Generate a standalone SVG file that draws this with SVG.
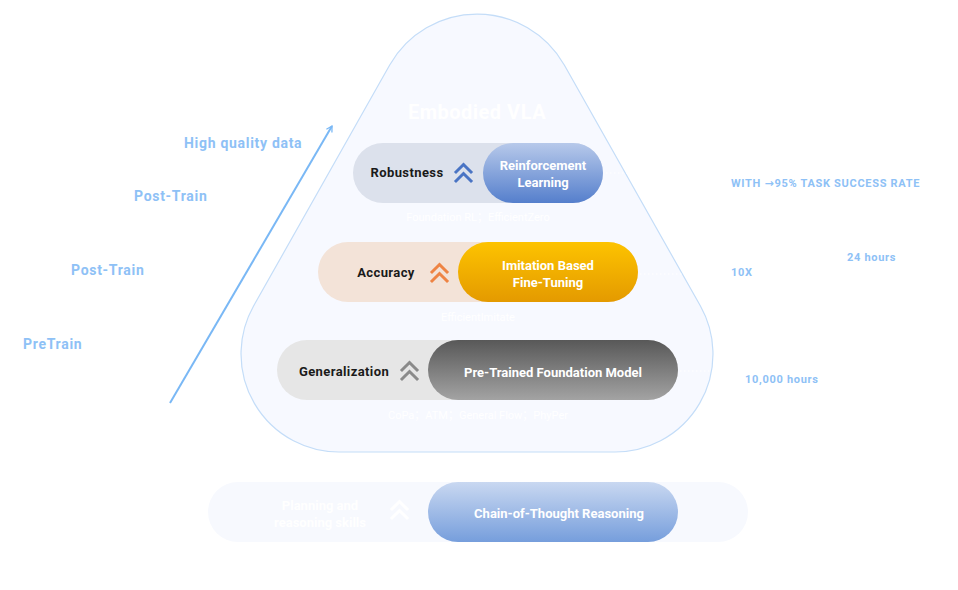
<svg xmlns="http://www.w3.org/2000/svg" width="958" height="590" viewBox="0 0 958 590">
<style>
  text { font-family: Roboto, "Liberation Sans", "Noto Sans CJK SC", sans-serif; font-weight: bold; }
  .side { fill: #8ec1f6; font-size: 14px; letter-spacing: 0.7px; }
  .stat { fill: #8ec1f6; font-size: 11px; letter-spacing: 0.7px; }
  .lbl { fill: #1a1a1a; font-size: 13px; text-anchor: middle; letter-spacing: 0.4px; }
  .wt { fill: #ffffff; font-size: 13px; text-anchor: middle; }
  .faint { fill: #ffffff; font-size: 11px; text-anchor: middle; font-weight: normal; }
  .chev { fill: none; stroke-width: 3; stroke-linecap: square; stroke-linejoin: miter; }
  .dots { stroke: #ffffff; stroke-width: 1.2; stroke-dasharray: 1.5 2.5; }
</style>
<defs>
  <linearGradient id="gBlue" x1="0" y1="0" x2="0" y2="1">
    <stop offset="0" stop-color="#b7c9ea"/>
    <stop offset="1" stop-color="#557fcc"/>
  </linearGradient>
  <linearGradient id="gOrange" x1="0" y1="0" x2="0" y2="1">
    <stop offset="0" stop-color="#fdc300"/>
    <stop offset="1" stop-color="#e49a00"/>
  </linearGradient>
  <linearGradient id="gGray" x1="0" y1="0" x2="0" y2="1">
    <stop offset="0" stop-color="#585858"/>
    <stop offset="1" stop-color="#a3a3a3"/>
  </linearGradient>
  <linearGradient id="gCot" x1="0" y1="0" x2="0" y2="1">
    <stop offset="0" stop-color="#c9d8f1"/>
    <stop offset="1" stop-color="#769edc"/>
  </linearGradient>
  <marker id="arr" viewBox="0 0 10 10" refX="8" refY="5" markerWidth="8" markerHeight="8" orient="auto" markerUnits="userSpaceOnUse">
    <path d="M1 1 L8 5 L1 9" fill="none" stroke="#7ab8f5" stroke-width="1.6"/>
  </marker>
</defs>

<g id="pyramid">
  <path d="M389.7 65 A100.3 100.3 0 0 1 564.3 65 L700.3 305.8 A98 98 0 0 1 615 452 L339 452 A98 98 0 0 1 253.7 305.8 Z" fill="#f7f9ff" stroke="#c4ddf8" stroke-width="1.2"/>
  <text x="477" y="119" class="wt" style="font-size:20px;letter-spacing:0.5px">Embodied VLA</text>
</g>

<g id="connectors">
  <line x1="170" y1="403" x2="332" y2="126" stroke="#7ab8f5" stroke-width="2" marker-end="url(#arr)"/>
  <line x1="606" y1="173" x2="640" y2="173" class="dots"/>
  <line x1="604" y1="274" x2="690" y2="274" class="dots"/>
  <line x1="644" y1="371" x2="712" y2="371" class="dots"/>
</g>

<g id="node-robustness">
  <rect x="353" y="143" width="250" height="60" rx="30" fill="#dce1ec"/>
  <rect x="483" y="143" width="120" height="60" rx="30" fill="url(#gBlue)"/>
  <text x="407" y="177" class="lbl">Robustness</text>
  <path d="M456 172 L463.5 164.5 L471 172 M456 181 L463.5 173.5 L471 181" class="chev" stroke="#4a74c4"/>
  <text x="543" y="170" class="wt">Reinforcement</text>
  <text x="543" y="187" class="wt">Learning</text>
  <text x="478" y="221" class="faint">Foundation RL；EfficientZero</text>
</g>

<g id="node-accuracy">
  <rect x="318" y="242" width="320" height="60" rx="30" fill="#f3e3d8"/>
  <rect x="458" y="242" width="180" height="60" rx="30" fill="url(#gOrange)"/>
  <text x="386" y="277" class="lbl">Accuracy</text>
  <path d="M432 272 L439.5 264.5 L447 272 M432 281 L439.5 273.5 L447 281" class="chev" stroke="#ee8444"/>
  <text x="548" y="270" class="wt">Imitation Based</text>
  <text x="548" y="287" class="wt">Fine-Tuning</text>
  <text x="478" y="321" class="faint">EfficientImitate</text>
</g>

<g id="node-generalization">
  <rect x="277" y="340" width="401" height="60" rx="30" fill="#e6e6e6"/>
  <rect x="428" y="340" width="250" height="60" rx="30" fill="url(#gGray)"/>
  <text x="344" y="376" class="lbl">Generalization</text>
  <path d="M402 370 L409.5 362.5 L417 370 M402 379 L409.5 371.5 L417 379" class="chev" stroke="#8a8a8a"/>
  <text x="553" y="377" class="wt">Pre-Trained Foundation Model</text>
  <text x="478" y="419" class="faint">CoPa；ATM；General Flow；PhyPer</text>
</g>

<g id="node-cot">
  <rect x="208" y="482" width="540" height="60" rx="30" fill="#f7f9fe"/>
  <rect x="428" y="482" width="250" height="60" rx="30" fill="url(#gCot)"/>
  <text x="320" y="510" class="wt">Planning and</text>
  <text x="320" y="527" class="wt">reasoning skills</text>
  <path d="M392 509 L399.5 501.5 L407 509 M392 518 L399.5 510.5 L407 518" class="chev" stroke="#ffffff"/>
  <text x="559" y="518" class="wt">Chain-of-Thought Reasoning</text>
</g>

<g id="side-labels">
  <text x="184" y="148" class="side">High quality data</text>
  <text x="134" y="201" class="side">Post-Train</text>
  <text x="71" y="275" class="side">Post-Train</text>
  <text x="23" y="349" class="side">PreTrain</text>
</g>

<g id="stats">
  <text x="731" y="187" class="stat">WITH <tspan style="font-family:'DejaVu Sans', sans-serif">→</tspan>95% TASK SUCCESS RATE</text>
  <text x="847" y="261" class="stat">24 hours</text>
  <text x="731" y="276" class="stat">10X</text>
  <text x="745" y="383" class="stat">10,000 hours</text>
</g>
</svg>
